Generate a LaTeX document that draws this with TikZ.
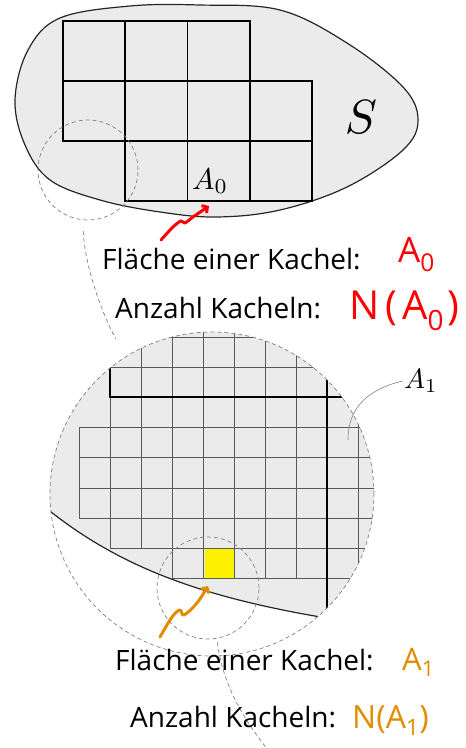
\documentclass[tikz,border=0pt]{standalone}
\usepackage{fontspec}
\setmainfont{Open Sans}
\usetikzlibrary{arrows.meta}
\definecolor{tilegray}{RGB}{235,235,235}
\definecolor{handred}{RGB}{255,0,0}
\definecolor{handorange}{RGB}{226,140,0}
\tikzset{
  kachel/.style={line width=1.6},
  feinkachel/.style={black!65, line width=0.7},
  lupe/.style={gray, dash pattern=on 4pt off 3pt, line width=0.7},
  rand/.style={black!85, line width=1.2},
  handpfeil/.style={line width=3, line cap=round, line join=round,
    -{Straight Barb[length=4pt,width=9pt]}},
  beschriftung/.style={anchor=base west, inner sep=0, font=\fontsize{28}{30}\selectfont},
  handschrift/.style={anchor=base west, inner sep=0},
}
\begin{document}
\begin{tikzpicture}[x=1pt,y=-1pt]
\useasboundingbox (0,0) rectangle (466,748);

% Menge S
\draw[rand, fill=tilegray] plot[smooth cycle, tension=0.6] coordinates {
  (60,18) (130,6) (200,5) (280,10) (347,43) (403,87) (418,120) (403,150)
  (347,187) (280,210) (217,217) (160,212) (100,200) (50,180) (25,145)
  (15,100) (28,50)};

% Kacheln A_0
\foreach \c/\r in {0/0,1/0,2/0, 0/1,1/1,2/1,3/1, 1/2,2/2,3/2}
  \draw[kachel] (63+62.25*\c, 21+60*\r) rectangle +(62.25,60);
\node[scale=3] (anull) at (210,181) {$A_0$};
\node[scale=4.8] (menge) at (361,117) {$S$};

% Lupe oben
\node[circle, lupe, draw, minimum size=100, inner sep=0] (lupenull) at (88,170) {};

% Texte oben
\node[beschriftung] (flaechenull) at (102,269) {Fläche einer Kachel:};
\node[beschriftung] (anzahlnull) at (115,318) {Anzahl Kacheln:};
\node[handschrift, handred, font=\fontsize{35}{37}\selectfont] (wertnull) at (398,262) {A\textsubscript{0}};
\node[handschrift, handred, font=\fontsize{40}{42}\selectfont] (nnull) at (349,319)
  {N\hspace{6pt}(\hspace{5pt}A\textsubscript{0}\hspace{3pt})};

% roter Pfeil
\coordinate (rotstart) at (161,240);
\coordinate (rotziel) at (209,206);
\draw[handpfeil, handred] plot[smooth, tension=0.6] coordinates
  {(rotstart) (173,227) (181,221) (185,223) (193,217) (rotziel)};

% Lupe unten (vergroessert)
\begin{scope}
  \clip (212,494) circle (162);
  \fill[tilegray] (40,503) .. controls (120,570) and (210,600) .. (345,621)
    -- (400,621) -- (400,320) -- (30,320) -- cycle;
  % Kacheln A_1
  \foreach \r/\von/\bis in {-1/1/8, 0/1/8, 1/1/9, 2/1/9, 3/0/9, 4/0/9, 5/0/9, 6/1/9, 7/3/9}
    \foreach \c in {\von,...,\bis}
      \draw[feinkachel] (79+31*\c, 337+30.2*\r) rectangle +(31,30.2);
  \fill[yellow] (205,549) rectangle (234,578);
  \draw[kachel] (110,300) -- (110,397) -- (400,397);
  \draw[kachel] (327,300) -- (327,617);
  \draw[rand] (40,503) .. controls (120,570) and (210,600) .. (345,621);
\end{scope}
\node[circle, lupe, draw, minimum size=324, inner sep=0] (lupeeins) at (212,494) {};
\node[circle, lupe, draw, minimum size=102, inner sep=0] (lupezwei) at (208,588) {};

% Verbindungen der Lupen
\draw[lupe, shorten <=11pt, shorten >=20pt] (lupenull.264)
  .. controls (85,270) and (105,320) .. (lupeeins.122);
\coordinate (weiter) at (268,750);
\draw[lupe, shorten <=4pt] (lupezwei.280) .. controls (222,680) and (240,715) .. (weiter);

% A_1
\node[scale=2.8, inner sep=0.4pt] (aeins) at (421,381) {$A_1$};
\coordinate (zeigereins) at (348,440);
\draw[gray, line width=0.6] (aeins.west) .. controls (365,390) and (348,410) .. (zeigereins);

% oranger Pfeil
\coordinate (orangestart) at (160,637);
\coordinate (orangeziel) at (208,586);
\draw[handpfeil, handorange] plot[smooth, tension=0.6] coordinates
  {(orangestart) (172,617) (180,610) (184,615) (197,603) (orangeziel)};

% Texte unten
\node[beschriftung] (flaecheeins) at (115,670) {Fläche einer Kachel:};
\node[beschriftung] (anzahleins) at (130,727) {Anzahl Kacheln:};
\node[handschrift, handorange, font=\fontsize{31}{33}\selectfont] (werteins) at (402,670) {A\textsubscript{1}};
\node[handschrift, handorange, font=\fontsize{32}{34}\selectfont] (neins) at (352,728)
  {N(A\textsubscript{1})};

\end{tikzpicture}
\end{document}
